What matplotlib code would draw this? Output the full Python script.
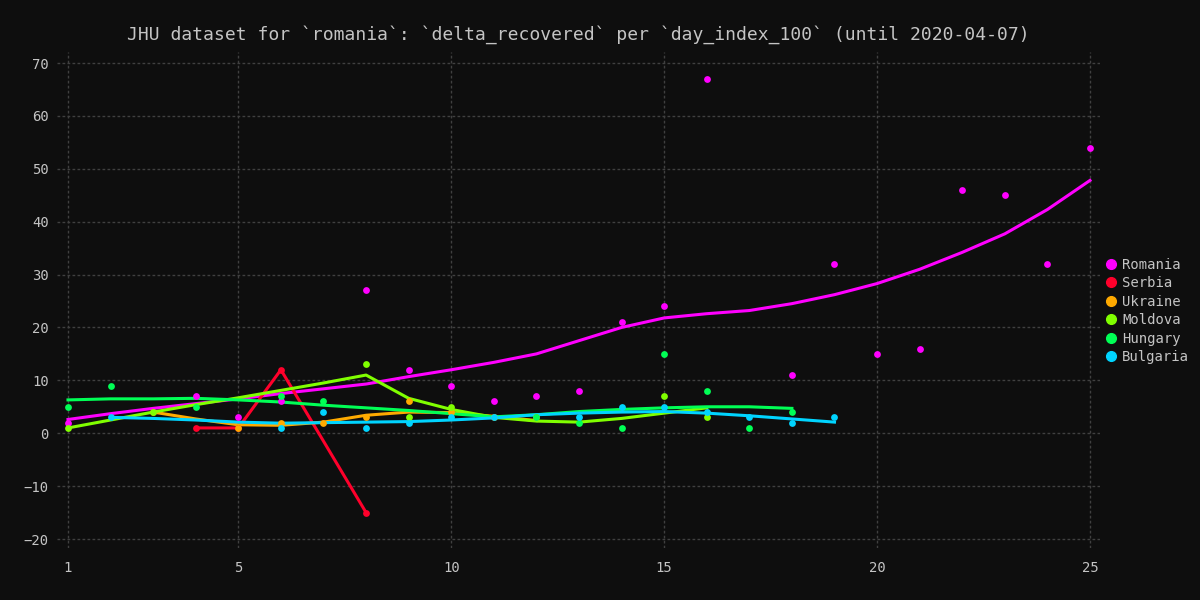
import matplotlib
matplotlib.use("Agg")
import matplotlib.pyplot as plt
from matplotlib.lines import Line2D

# punkty (dzien, wartosc) i linie trendu
romania_days = [1, 4, 5, 6, 8, 9, 10, 11, 12, 13, 14, 15, 16, 18, 19, 20, 21, 22, 23, 24, 25]
romania_vals = [2, 7, 3, 6, 27, 12, 9, 6, 7, 8, 21, 24, 67, 11, 32, 15, 16, 46, 45, 32, 54]
romania_trend_days = list(range(1, 26))
romania_trend = [2.6, 3.7, 4.7, 5.6, 6.5, 7.5, 8.4, 9.3, 10.7, 12.0, 13.4, 15.0, 17.5,
                 20.0, 21.8, 22.6, 23.2, 24.5, 26.2, 28.3, 31.0, 34.2, 37.7, 42.3, 47.8]

serbia_days = [4, 5, 6, 8]
serbia_vals = [1, 1, 12, -15]
serbia_trend_days = [4, 5, 6, 8]
serbia_trend = [1, 1, 12, -15]

ukraine_days = [3, 5, 6, 7, 8, 9, 10, 11, 12]
ukraine_vals = [4, 1, 2, 2, 3, 6, 4, 3, 3]
ukraine_trend_days = [3, 4, 5, 6, 7, 8, 9, 10, 11, 12]
ukraine_trend = [4.0, 2.7, 1.6, 1.5, 2.1, 3.4, 4.0, 3.9, 3.2, 2.4]

moldova_days = [1, 3, 8, 9, 10, 15, 16]
moldova_vals = [1, 4, 13, 3, 5, 7, 3]
moldova_trend_days = list(range(1, 17))
moldova_trend = [1.0, 2.5, 4.0, 5.4, 6.7, 8.1, 9.5, 11.0, 6.6, 4.5, 3.0, 2.3, 2.1, 2.8, 3.8, 4.8]

hungary_days = [1, 2, 4, 6, 7, 12, 13, 14, 15, 16, 17, 18]
hungary_vals = [5, 9, 5, 7, 6, 3, 2, 1, 15, 8, 1, 4]
hungary_trend_days = list(range(1, 19))
hungary_trend = [6.3, 6.5, 6.5, 6.6, 6.3, 5.9, 5.3, 4.8, 4.3, 3.7, 3.1, 3.5, 4.1,
                 4.5, 4.8, 5.0, 5.0, 4.7]

bulgaria_days = [2, 6, 7, 8, 9, 10, 11, 13, 14, 15, 16, 17, 18, 19]
bulgaria_vals = [3, 1, 4, 1, 2, 3, 3, 3, 5, 5, 4, 3, 2, 3]
bulgaria_trend_days = list(range(2, 20))
bulgaria_trend = [3.0, 2.8, 2.5, 2.1, 1.9, 2.0, 2.1, 2.2, 2.5, 2.9, 3.5, 3.8, 4.0,
                  4.1, 3.8, 3.3, 2.7, 2.1]

kraje = ["Romania", "Serbia", "Ukraine", "Moldova", "Hungary", "Bulgaria"]
kolory = ["#ff00ff", "#ff002b", "#ffaa00", "#80ff00", "#00ff55", "#00d4ff"]

serie = [
    (romania_days, romania_vals, romania_trend_days, romania_trend),
    (serbia_days, serbia_vals, serbia_trend_days, serbia_trend),
    (ukraine_days, ukraine_vals, ukraine_trend_days, ukraine_trend),
    (moldova_days, moldova_vals, moldova_trend_days, moldova_trend),
    (hungary_days, hungary_vals, hungary_trend_days, hungary_trend),
    (bulgaria_days, bulgaria_vals, bulgaria_trend_days, bulgaria_trend),
]

tlo = "#0e0e0e"
tekst = "#c4c4c4"
plt.rcParams["font.family"] = ["DejaVu Sans Mono"]

fig = plt.figure(figsize=(12, 6), dpi=100, facecolor=tlo)
ax = fig.add_axes([57 / 1200, 1 - 548 / 600, (1100 - 57) / 1200, (548 - 52) / 600])
ax.set_facecolor(tlo)

for (dni, wart, tdni, trend), kolor in zip(serie, kolory):
    ax.plot(tdni, trend, color=kolor, linewidth=2.2, zorder=3)
    ax.scatter(dni, wart, color=kolor, s=24, zorder=4, linewidths=0)

ax.set_xlim(0.742, 25.235)
ax.set_ylim(-21.7, 72.08)
ax.set_xticks([1, 5, 10, 15, 20, 25])
ax.set_yticks(range(-20, 71, 10))
ax.grid(True, color="#404040", linestyle=(0, (2, 1.6)), linewidth=1)
ax.set_axisbelow(True)
for s in ax.spines.values():
    s.set_visible(False)
ax.tick_params(length=0, colors=tekst, labelsize=10)
ax.tick_params(axis="y", pad=6)
ax.tick_params(axis="x", pad=9)

fig.suptitle("JHU dataset for `romania`: `delta_recovered` per `day_index_100` (until 2020-04-07)",
             color=tekst, fontsize=13, x=578 / 1200, y=1 - 35 / 600, va="center")

uchwyty = [Line2D([], [], marker="o", linestyle="", color=k, markersize=7) for k in kolory]
leg = fig.legend(uchwyty, kraje, loc="center left", bbox_to_anchor=(1090 / 1200, 1 - 311 / 600),
                 frameon=False, fontsize=10, handletextpad=0.2, labelspacing=0.32,
                 handlelength=1.2)
for t in leg.get_texts():
    t.set_color(tekst)

fig.savefig("out.png", dpi=100, facecolor=tlo)
